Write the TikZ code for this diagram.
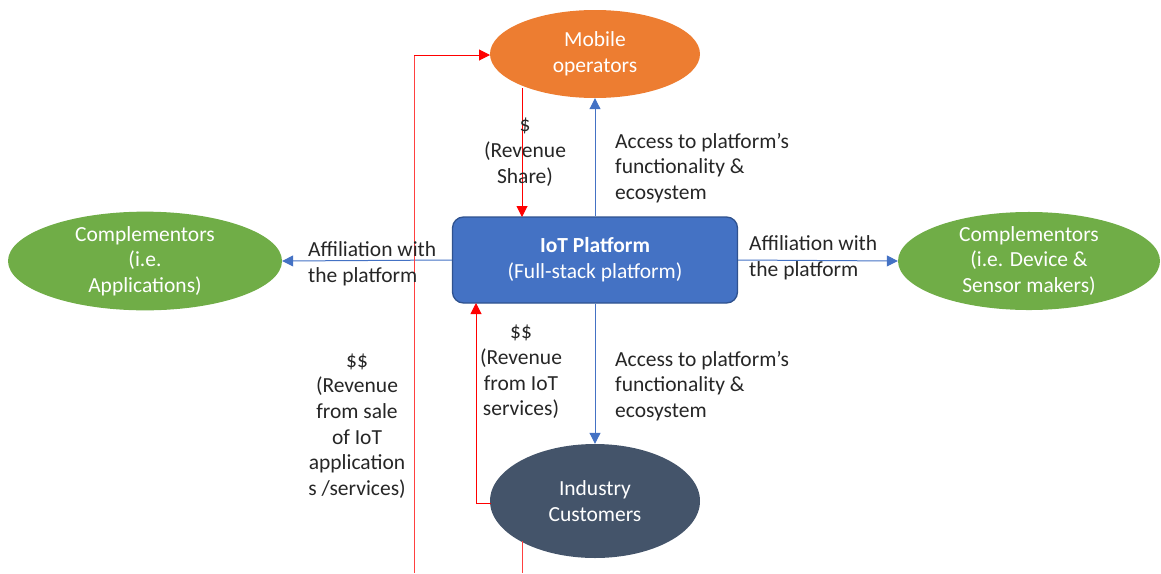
\documentclass[tikz,border=0pt]{standalone}
\usepackage{fontspec}
\setmainfont{Carlito}
\usetikzlibrary{shapes.geometric,arrows.meta}
\definecolor{oporange}{HTML}{ED7D31}
\definecolor{platblue}{HTML}{4472C4}
\definecolor{platedge}{HTML}{2F528F}
\definecolor{compgreen}{HTML}{70AD47}
\definecolor{custslate}{HTML}{44546A}
\definecolor{txtgray}{HTML}{262626}
\tikzset{
  x=1pt, y=-1pt,
  txt/.style={font=\fontsize{21.5}{25.7}\selectfont, text=txtgray, inner sep=0pt},
  oval/.style={ellipse, inner sep=0pt, text=white, align=center,
    font=\fontsize{21.5}{25.7}\selectfont},
  bluearrow/.style={draw=platblue, line width=1pt, -{Triangle[width=11pt,length=11pt]}},
  redarrow/.style={draw=red, line width=1pt, -{Triangle[width=11pt,length=11pt]}},
  redline/.style={draw=red!75, line width=1pt},
}
\begin{document}
\begin{tikzpicture}
\useasboundingbox (0,0) rectangle (1161,573);

% actors
\node[oval, fill=oporange, minimum width=210pt, minimum height=88pt] (mob) at (595,54) {Mobile\\operators};
\node[oval, fill=compgreen, minimum width=274pt, minimum height=88pt] (capp) at (145,261) {Complementors\\(i.e.\\Applications)};
\node[oval, fill=compgreen, minimum width=262pt, minimum height=88pt] (cdev) at (1029,261) {Complementors\\(i.e. Device \&\\Sensor makers)};
\node[oval, fill=custslate, minimum width=210pt, minimum height=114pt] (cust) at (595,501) {Industry\\Customers};
\node[draw=platedge, line width=1.3pt, fill=platblue, rounded corners=11pt,
  minimum width=285pt, minimum height=86pt, inner sep=0pt, align=center, text=white,
  font=\fontsize{21.5}{25.7}\selectfont] (plat) at (595,260)
  {\textbf{IoT Platform}\\(Full-stack platform)};

% anchor points for the money flows
\coordinate (mobL) at (490,55);
\coordinate (farL) at (414,55);
\coordinate (farB) at (414,573);
\coordinate (custB) at (522,541);
\coordinate (custBB) at (522,573);
\coordinate (custL) at (491,503);
\coordinate (bendL) at (476,503);
\coordinate (platBL) at (476,303);
\coordinate (mobS) at (522,88);
\coordinate (platTL) at (522,217);

% access and affiliation flows
\draw[bluearrow] (plat.north) -- (mob.south);
\draw[bluearrow] (plat.south) -- (cust.north);
\draw[bluearrow] (plat.west) -- (capp.east);
\draw[bluearrow] (plat.east) -- (cdev.west);

% money flows
\draw[redarrow] (mobS) -- (platTL);
\draw[redarrow] (custL) -- (bendL) -- (platBL);
\draw[redline] (farB) -- (farL);
\draw[redarrow] (farL) -- (mobL);
\draw[redline] (custB) -- (custBB);

% labels
\node[txt, align=center] (lshare) at (525,152) {\$\\(Revenue\\Share)};
\node[txt, align=left, anchor=west] (laccu) at (615,168) {Access to platform’s\\functionality \&\\ecosystem};
\node[txt, align=left, anchor=west] (laccd) at (615,386) {Access to platform’s\\functionality \&\\ecosystem};
\node[txt, align=left, anchor=west] (laffl) at (308,264) {Affiliation with\\the platform};
\node[txt, align=left, anchor=west] (laffr) at (749,258) {Affiliation with\\the platform};
\node[txt, align=center] (lserv) at (521,372) {\$\$\\(Revenue\\from IoT\\services)};
\node[txt, align=center] (lsale) at (357,426) {\$\$\\(Revenue\\from sale\\of IoT\\application\\s /services)};
\end{tikzpicture}
\end{document}
